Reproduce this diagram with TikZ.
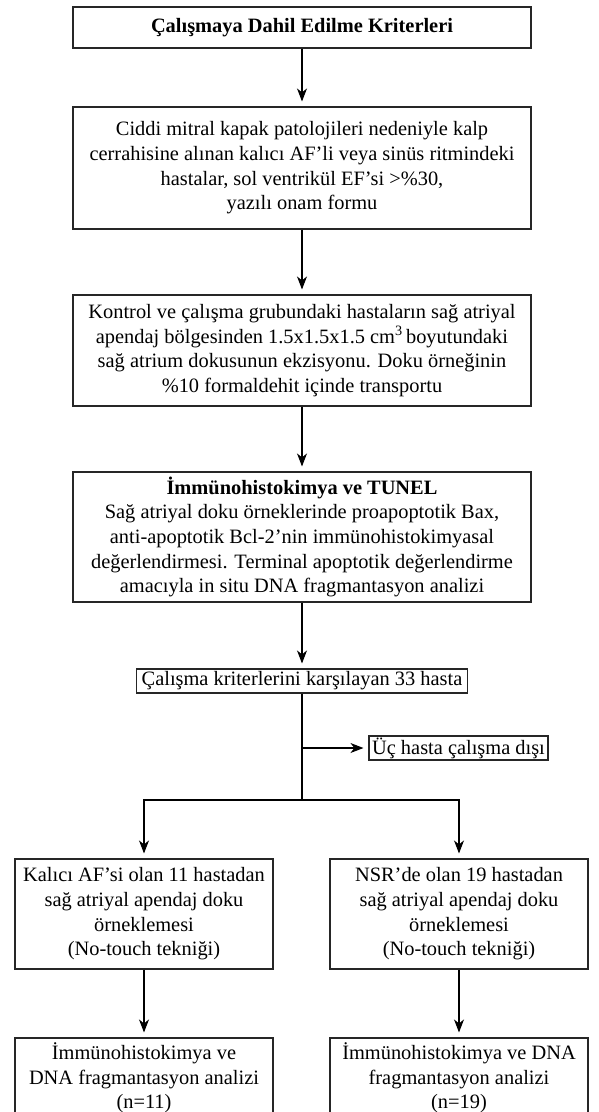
\documentclass[tikz,border=0pt]{standalone}
\usepackage{fontspec}
\setmainfont{Liberation Serif}
\usetikzlibrary{arrows.meta}
\begin{document}
\begin{tikzpicture}[x=1pt,y=-1pt,
  box/.style={draw=black!85,line width=1.1pt,rectangle,inner sep=0pt,align=center,
    font=\fontsize{20.4}{24.7}\selectfont},
  arr/.style={line width=1.1pt,-{Stealth[length=13pt,width=10pt,inset=4pt]},shorten >=5pt},
  ln/.style={line width=1.1pt}]
\useasboundingbox (0,0) rectangle (598,1112);
\clip (0,0) rectangle (598,1112);
\node[box,minimum width=458pt,minimum height=41pt] (b1) at (302,27.5)
  {\textbf{Çalışmaya Dahil Edilme Kriterleri}};
\node[box,minimum width=458pt,minimum height=122pt] (b2) at (302,168)
  {Ciddi mitral kapak patolojileri nedeniyle kalp\\
   cerrahisine alınan kalıcı AF’li veya sinüs ritmindeki\\
   hastalar, sol ventrikül EF’si >\%30,\\
   yazılı onam formu};
\node[box,minimum width=458pt,minimum height=111pt] (b3) at (302,350.5)
  {Kontrol ve çalışma grubundaki hastaların sağ atriyal\\
   apendaj bölgesinden 1.5x1.5x1.5 cm\textsuperscript{3}\,boyutundaki\\
   sağ atrium dokusunun ekzisyonu. Doku örneğinin\\
   \%10 formaldehit içinde transportu};
\node[box,minimum width=458pt,minimum height=130pt] (b4) at (302,537)
  {\textbf{İmmünohistokimya ve TUNEL}\\
   Sağ atriyal doku örneklerinde proapoptotik Bax,\\
   anti-apoptotik Bcl-2’nin immünohistokimyasal\\
   değerlendirmesi. Terminal apoptotik değerlendirme\\
   amacıyla in situ DNA fragmantasyon analizi};
\node[box,minimum width=331pt,minimum height=24pt] (b5) at (302,681)
  {Çalışma kriterlerini karşılayan 33 hasta};
\node[box,minimum width=179pt,minimum height=24pt] (ex) at (458.5,748)
  {Üç hasta çalışma dışı};
\node[box,minimum width=258pt,minimum height=110pt] (l1) at (144,914)
  {Kalıcı AF’si olan 11 hastadan\\
   sağ atriyal apendaj doku\\
   örneklemesi\\
   (No-touch tekniği)};
\node[box,minimum width=258pt,minimum height=110pt] (r1) at (459,914)
  {NSR’de olan 19 hastadan\\
   sağ atriyal apendaj doku\\
   örneklemesi\\
   (No-touch tekniği)};
\node[box,minimum width=258pt,minimum height=80pt] (l2) at (144,1078)
  {İmmünohistokimya ve\\
   DNA fragmantasyon analizi\\
   (n=11)};
\node[box,minimum width=258pt,minimum height=80pt] (r2) at (459,1078)
  {İmmünohistokimya ve DNA\\
   fragmantasyon analizi\\
   (n=19)};
\coordinate (split) at (302,800);
\draw[arr] (b1) -- (b2);
\draw[arr] (b2) -- (b3);
\draw[arr] (b3) -- (b4);
\draw[arr] (b4) -- (b5);
\draw[ln] (b5.south) -- (split);
\draw[arr] (b5.south |- ex.west) -- (ex.west);
\draw[arr] (split) -| (l1.north);
\draw[arr] (split) -| (r1.north);
\draw[arr] (l1) -- (l2);
\draw[arr] (r1) -- (r2);
\end{tikzpicture}
\end{document}
